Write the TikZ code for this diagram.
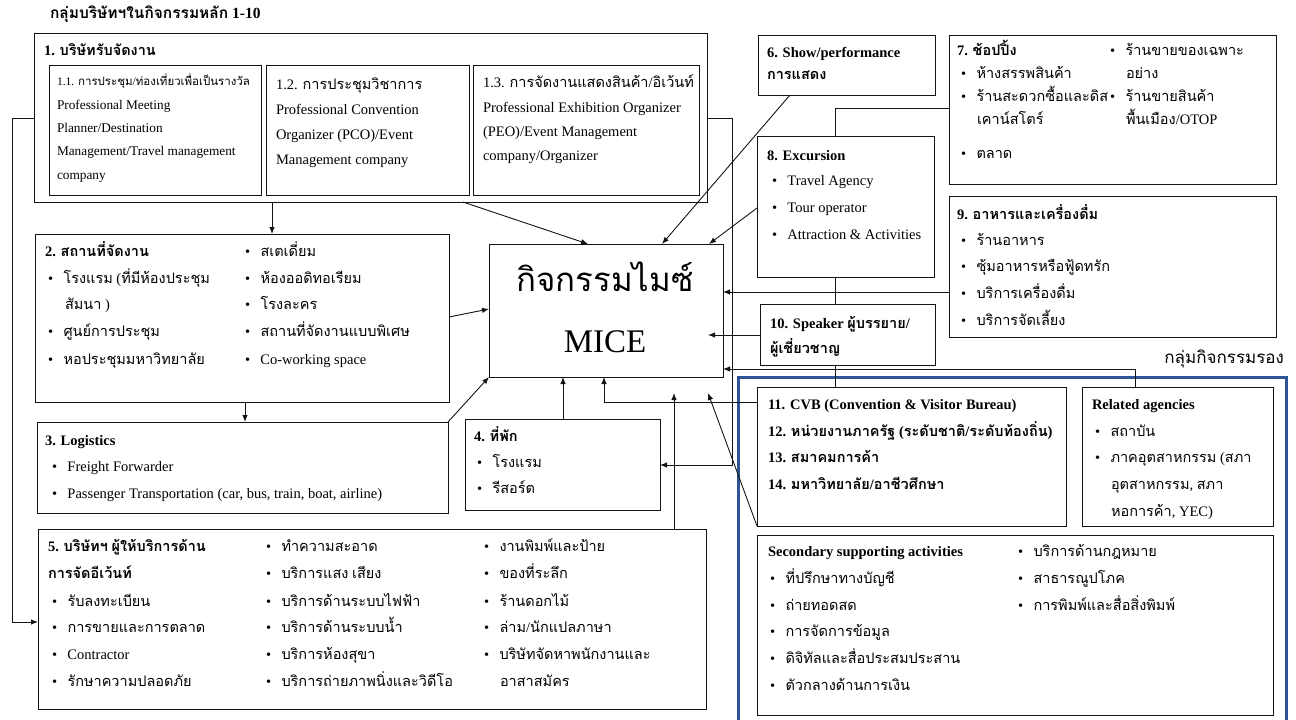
\documentclass[tikz,border=0pt]{standalone}
\usepackage{fontspec}
\setmainfont{Liberation Serif}
\newfontfamily\thaifont[Script=Thai,Scale=1.0]{Loma}
\usetikzlibrary{arrows.meta}

% switch to the Thai family automatically for characters U+0E00--U+0E7F
\XeTeXinterchartokenstate=1
\newXeTeXintercharclass\thaicls
\newcount\thaich
\thaich="0E00
\loop
  \XeTeXcharclass\thaich=\thaicls
  \ifnum\thaich<"0E7F \advance\thaich by 1
\repeat
\XeTeXinterchartoks 0 \thaicls = {\begingroup\thaifont}
\XeTeXinterchartoks 4095 \thaicls = {\begingroup\thaifont}
\XeTeXinterchartoks \thaicls 0 = {\endgroup}
\XeTeXinterchartoks \thaicls 4095 = {\endgroup}

\definecolor{grpblue}{RGB}{47,84,150}
\definecolor{ink}{RGB}{20,20,20}

\newcommand\fs{\fontsize{14.5}{17}\selectfont}
\newcommand\bu{\makebox[15.5pt][l]{•}}

\tikzset{
  bx/.style={draw=ink, line width=1pt, inner sep=0pt, outer sep=0pt},
  tx/.style={anchor=west, inner sep=0pt, outer sep=0pt, text height=0.6em, text depth=0pt, font=\fs},
  hd/.style={tx, font=\fs\bfseries},
  sm/.style={tx, font=\fontsize{13.3}{16}\selectfont},
  ln/.style={draw=ink, line width=0.9pt},
  arr/.style={ln, -{Latex[length=7pt,width=5.5pt]}},
  grp/.style={draw=grpblue, line width=3pt, inner sep=0pt, outer sep=0pt},
}

% box from its two corners: name, x1, y1, x2, y2
\newcommand\bxn[6][bx]{\node[#1, minimum width={(#5-#3)*1pt}, minimum height={(#6-#4)*1pt}] (#2) at ({(#3+#5)/2},{(#4+#6)/2}) {};}
% text line: [style], name, x, y, text
\newcommand\tl[5][tx]{\node[#1] (#2) at (#3,#4) {#5};}

\begin{document}
\begin{tikzpicture}[x=1pt,y=-1pt]
\useasboundingbox (0,0) rectangle (1296,720);

% ---------- boxes ----------
\bxn{b1}{34}{33}{707}{202}
\bxn{b1a}{49}{65}{261}{195}
\bxn{b1b}{266}{65}{469}{195}
\bxn{b1c}{473}{65}{699}{195}
\bxn{b6}{758}{35}{935}{95}
\bxn{b7}{949}{35}{1276}{184}
\bxn{b8}{757}{136}{934}{277}
\bxn{b9}{949}{196}{1276}{337}
\bxn{mice}{489}{244}{723}{377}
\bxn{b2}{35}{234}{449}{402}
\bxn{b3}{37}{422}{448}{513}
\bxn{b4}{465}{419}{660}{510}
\bxn{b5}{38}{529}{706}{709}
\bxn{b10}{760}{304}{935}{365}
\bxn[grp]{grp2}{738}{377}{1286}{760}
\bxn{bcvb}{757}{387}{1066}{526}
\bxn{brel}{1082}{387}{1273}{526}
\bxn{bsec}{757}{535}{1273}{715}

% ---------- group captions ----------
\node[tx, font=\fontsize{15.5}{19}\selectfont\bfseries] (cap1) at (50,15) {กลุ่มบริษัทฯในกิจกรรมหลัก 1-10};
\node[tx, anchor=east, font=\fontsize{17}{20}\selectfont] (cap2) at (1284,360) {กลุ่มกิจกรรมรอง};

% ---------- centre ----------
\node[inner sep=0pt, font=\fontsize{33}{33}\selectfont] (miceth) at (605,277) {กิจกรรมไมซ์};
\node[inner sep=0pt, font=\fontsize{33}{33}\selectfont] (micen) at (605,342) {MICE};

% ---------- 1 ----------
\tl[hd]{t1}{44}{52}{1. บริษัทรับจัดงาน}
\tl[tx,font=\fontsize{11.5}{13}\selectfont]{t1a1}{57}{82}{1.1. การประชุม/ท่องเที่ยวเพื่อเป็นรางวัล}
\tl[sm]{t1a2}{57}{106}{Professional Meeting}
\tl[sm]{t1a3}{57}{129}{Planner/Destination}
\tl[sm]{t1a4}{57}{152}{Management/Travel management}
\tl[sm]{t1a5}{57}{176}{company}
\tl{t1b1}{276}{86}{1.2. การประชุมวิชาการ}
\tl{t1b2}{276}{111}{Professional Convention}
\tl{t1b3}{276}{136}{Organizer (PCO)/Event}
\tl{t1b4}{276}{161}{Management company}
\tl{t1c1}{483}{84}{1.3. การจัดงานแสดงสินค้า/อิเว้นท์}
\tl{t1c2}{483}{109}{Professional Exhibition Organizer}
\tl{t1c3}{483}{133}{(PEO)/Event Management}
\tl{t1c4}{483}{157}{company/Organizer}

% ---------- 2 ----------
\tl[hd]{t2}{45}{253}{2. สถานที่จัดงาน}
\tl{t2a}{48}{280}{\bu โรงแรม (ที่มีห้องประชุม}
\tl{t2b}{65}{306}{สัมนา )}
\tl{t2c}{48}{333}{\bu ศูนย์การประชุม}
\tl{t2d}{48}{361}{\bu หอประชุมมหาวิทยาลัย}
\tl{t2e}{245}{253}{\bu สเตเดี่ยม}
\tl{t2f}{245}{280}{\bu ห้องออดิทอเรียม}
\tl{t2g}{245}{306}{\bu โรงละคร}
\tl{t2h}{245}{333}{\bu สถานที่จัดงานแบบพิเศษ}
\tl{t2i}{245}{361}{\bu Co-working space}

% ---------- 3 ----------
\tl[hd]{t3}{45}{442}{3. Logistics}
\tl{t3a}{52}{468}{\bu Freight Forwarder}
\tl{t3b}{52}{495}{\bu Passenger Transportation (car, bus, train, boat, airline)}

% ---------- 4 ----------
\tl[hd]{t4}{474}{438}{4. ที่พัก}
\tl{t4a}{477}{464}{\bu โรงแรม}
\tl{t4b}{477}{490}{\bu รีสอร์ต}

% ---------- 5 ----------
\tl[hd]{t5}{48}{548}{5. บริษัทฯ ผู้ให้บริการด้าน}
\tl[hd]{t5x}{48}{575}{การจัดอีเว้นท์}
\tl{t5a}{52}{603}{\bu รับลงทะเบียน}
\tl{t5b}{52}{629}{\bu การขายและการตลาด}
\tl{t5c}{52}{656}{\bu Contractor}
\tl{t5d}{52}{683}{\bu รักษาความปลอดภัย}
\tl{t5e}{266}{548}{\bu ทำความสะอาด}
\tl{t5f}{266}{575}{\bu บริการแสง เสียง}
\tl{t5g}{266}{603}{\bu บริการด้านระบบไฟฟ้า}
\tl{t5h}{266}{629}{\bu บริการด้านระบบน้ำ}
\tl{t5i}{266}{656}{\bu บริการห้องสุขา}
\tl{t5j}{266}{683}{\bu บริการถ่ายภาพนิ่งและวิดีโอ}
\tl{t5k}{484}{548}{\bu งานพิมพ์และป้าย}
\tl{t5l}{484}{575}{\bu ของที่ระลึก}
\tl{t5m}{484}{603}{\bu ร้านดอกไม้}
\tl{t5n}{484}{629}{\bu ล่าม/นักแปลภาษา}
\tl{t5o}{484}{656}{\bu บริษัทจัดหาพนักงานและ}
\tl{t5p}{500}{683}{อาสาสมัคร}

% ---------- 6 ----------
\tl[hd]{t6}{767}{54}{6. Show/performance}
\tl[hd]{t6a}{767}{76}{การแสดง}

% ---------- 7 ----------
\tl[hd]{t7}{957}{52}{7. ช้อปปิ้ง}
\tl{t7a}{961}{75}{\bu ห้างสรรพสินค้า}
\tl{t7b}{961}{98}{\bu ร้านสะดวกซื้อและดิส}
\tl{t7c}{977}{121}{เคาน์สโตร์}
\tl{t7d}{961}{155}{\bu ตลาด}
\tl{t7e}{1110}{52}{\bu ร้านขายของเฉพาะ}
\tl{t7f}{1126}{75}{อย่าง}
\tl{t7g}{1110}{98}{\bu ร้านขายสินค้า}
\tl{t7h}{1126}{121}{พื้นเมือง/OTOP}

% ---------- 8 ----------
\tl[hd]{t8}{767}{157}{8. Excursion}
\tl{t8a}{772}{182}{\bu Travel Agency}
\tl{t8b}{772}{209}{\bu Tour operator}
\tl{t8c}{772}{236}{\bu Attraction \& Activities}

% ---------- 9 ----------
\tl[hd]{t9}{957}{216}{9. อาหารและเครื่องดื่ม}
\tl{t9a}{961}{242}{\bu ร้านอาหาร}
\tl{t9b}{961}{268}{\bu ซุ้มอาหารหรือฟู้ดทรัก}
\tl{t9c}{961}{295}{\bu บริการเครื่องดื่ม}
\tl{t9d}{961}{322}{\bu บริการจัดเลี้ยง}

% ---------- 10 ----------
\tl[hd]{t10}{770}{325}{10. Speaker ผู้บรรยาย/}
\tl[hd]{t10a}{770}{350}{ผู้เชี่ยวชาญ}

% ---------- 11-14 ----------
\tl[hd]{t11}{768}{406}{11. CVB (Convention \& Visitor Bureau)}
\tl[hd]{t12}{768}{433}{12. หน่วยงานภาครัฐ (ระดับชาติ/ระดับท้องถิ่น)}
\tl[hd]{t13}{768}{459}{13. สมาคมการค้า}
\tl[hd]{t14}{768}{486}{14. มหาวิทยาลัย/อาชีวศึกษา}

% ---------- related agencies ----------
\tl[hd]{tr}{1092}{406}{Related agencies}
\tl{tra}{1095}{433}{\bu สถาบัน}
\tl{trb}{1095}{459}{\bu ภาคอุตสาหกรรม (สภา}
\tl{trc}{1111}{486}{อุตสาหกรรม, สภา}
\tl{trd}{1111}{513}{หอการค้า, YEC)}

% ---------- secondary supporting activities ----------
\tl[hd]{ts}{768}{553}{Secondary supporting activities}
\tl{tsa}{770}{580}{\bu ที่ปรึกษาทางบัญชี}
\tl{tsb}{770}{607}{\bu ถ่ายทอดสด}
\tl{tsc}{770}{633}{\bu การจัดการข้อมูล}
\tl{tsd}{770}{660}{\bu ดิจิทัลและสื่อประสมประสาน}
\tl{tse}{770}{687}{\bu ตัวกลางด้านการเงิน}
\tl{tsf}{1018}{553}{\bu บริการด้านกฎหมาย}
\tl{tsg}{1018}{580}{\bu สาธารณูปโภค}
\tl{tsh}{1018}{607}{\bu การพิมพ์และสื่อสิ่งพิมพ์}

% ---------- connectors ----------
\coordinate (p5) at (674,393);
\coordinate (pd) at (708,393);
\coordinate (p10) at (708,335);

\draw[arr] (272,0 |- b1.south) -- (272,0 |- b2.north);
\draw[arr] (245,0 |- b2.south) -- (245,0 |- b3.north);
\draw[arr] (b1.west |- 0,118) -- (12,118) -- (12,622) -- (b5.west |- 0,622);
\draw[arr] (b1.east |- 0,118) -- (732,118) -- (732,465) -- (b4.east |- 0,465);
\draw[arr] (463,0 |- b1.south) -- (588,0 |- mice.north);
\draw[arr] (790,0 |- b6.south) -- (662,0 |- mice.north);
\draw[arr] (b8.west |- 0,208) -- (709,0 |- mice.north);
\draw[arr] (b2.east |- 0,317) -- (mice.west |- 0,309);
\draw[arr] (b3.north east) -- (mice.south west);
\draw[arr] (563,0 |- b4.north) -- (563,0 |- mice.south);
\draw[arr] (bcvb.west |- 0,402) -- (604,402) -- (604,0 |- mice.south);
\draw[arr] (674,0 |- b5.north) -- (p5);
\draw[arr] (bcvb.south west) -- (pd);
\draw[ln] (b7.west |- 0,108) -- (835,108) -- (835,0 |- b8.north);
\draw[ln] (835,0 |- b8.south) -- (835,0 |- b10.north);
\draw[arr] (b9.west |- 0,292) -- (mice.east |- 0,292);
\draw[arr] (b10.west |- 0,335) -- (p10);
\draw[ln] (835,0 |- b10.south) -- (835,0 |- bcvb.north);
\draw[arr] (1135,0 |- brel.north) -- (1135,369) -- (mice.east |- 0,369);
\end{tikzpicture}
\end{document}
